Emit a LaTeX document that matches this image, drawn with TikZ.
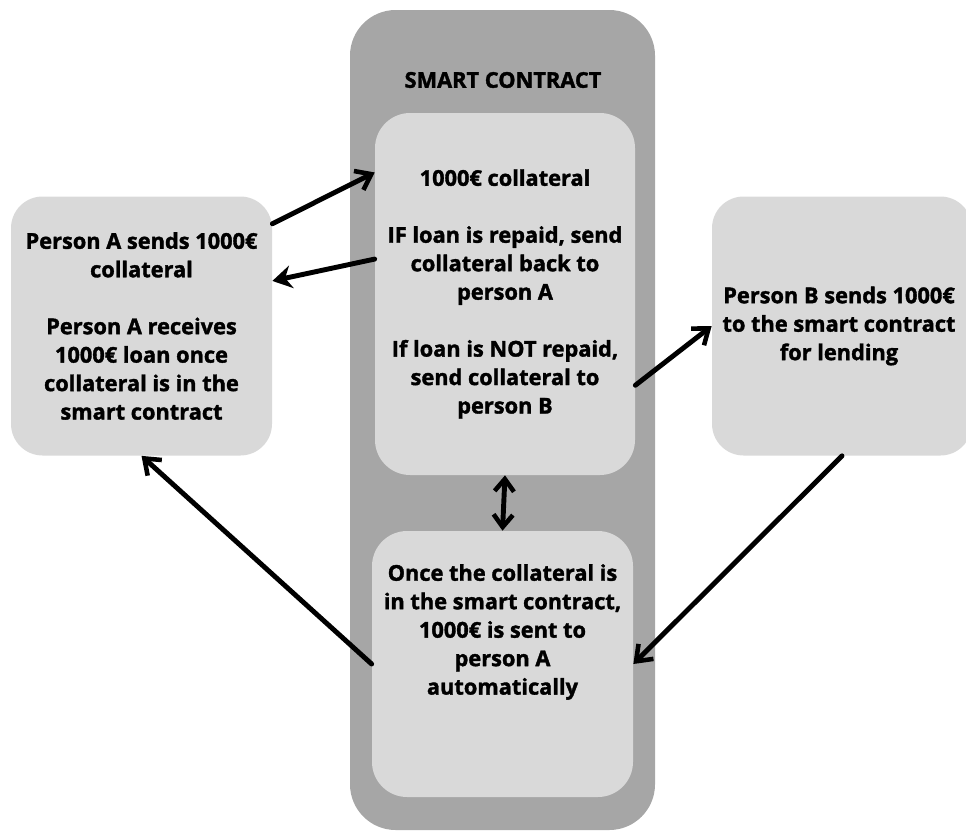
\documentclass[tikz,border=0pt]{standalone}
\usepackage{fontspec}
\setmainfont{Open Sans}[BoldFeatures={FakeBold=1.6}]
\usetikzlibrary{arrows.meta,calc}

\tikzset{
  innerbox/.style={fill=lightbox, draw=none, rounded corners=20pt, inner sep=0pt},
  boxtext/.style={align=center, font=\fontsize{12.4}{16.2}\selectfont\bfseries, inner sep=0pt},
  flow/.style={line width=2.8pt, -{Straight Barb[length=8pt,width=12pt,line width=2.6pt]}},
  flowfill/.style={line width=2.8pt, -{Stealth[length=11pt,width=13pt]}},
}
\definecolor{lightbox}{HTML}{D9D9D9}
\definecolor{darkbox}{HTML}{A6A6A6}

\begin{document}
\begin{tikzpicture}[x=0.02cm, y=-0.02cm, line join=round, line cap=round]
    \useasboundingbox (0,0) rectangle (966,832);

    % grosse Box fuer den Smart Contract
    \fill[darkbox, rounded corners=26pt] (350,10) rectangle (655,830);
    \node[boxtext] (title) at (503,80) {SMART CONTRACT};

    % Boxen im Smart Contract
    \node[innerbox, minimum width=260*0.02cm, minimum height=362*0.02cm] (sc1) at (505,294) {};
    \node[boxtext] (sc1text) at (sc1.center) {1000€ collateral\\[16.2pt]
      IF loan is repaid, send\\ collateral back to\\ person A\\[16.2pt]
      If loan is NOT repaid,\\ send collateral to\\ person B};
    \node[innerbox, minimum width=261*0.02cm, minimum height=266*0.02cm] (sc2) at (502.5,664) {};
    \node[boxtext] (sc2text) at (502.5,632) {Once the collateral is\\ in the smart contract,\\
      1000€ is sent to\\ person A\\ automatically};

    % Personen A und B
    \node[innerbox, rounded corners=18pt, minimum width=261*0.02cm, minimum height=259*0.02cm] (pa) at (141.5,326) {};
    \node[boxtext] (patext) at (pa.center) {Person A sends 1000€\\ collateral\\[16.2pt]
      Person A receives\\ 1000€ loan once\\ collateral is in the\\ smart contract};
    \node[innerbox, rounded corners=18pt, minimum width=260*0.02cm, minimum height=259*0.02cm] (pb) at (842,326) {};
    \node[boxtext] (pbtext) at (839,326) {Person B sends 1000€\\ to the smart contract\\ for lending};

    % Pfeile
    \draw[flow] (pa.38) -- (sc1.137);
    \draw[flowfill] (sc1.165) -- (pa.19);
    \draw[flow] (sc1.-35) -- (pb.west);
    \draw[flow] (pb.south) -- (sc2.east);
    \draw[flow] (sc2.west) -- (pa.south);
    \draw[line width=2.8pt, {Straight Barb[length=7pt,width=11pt,line width=2.6pt]}-{Straight Barb[length=7pt,width=11pt,line width=2.6pt]}] (sc1.south) -- (sc2.north);
\end{tikzpicture}
\end{document}
